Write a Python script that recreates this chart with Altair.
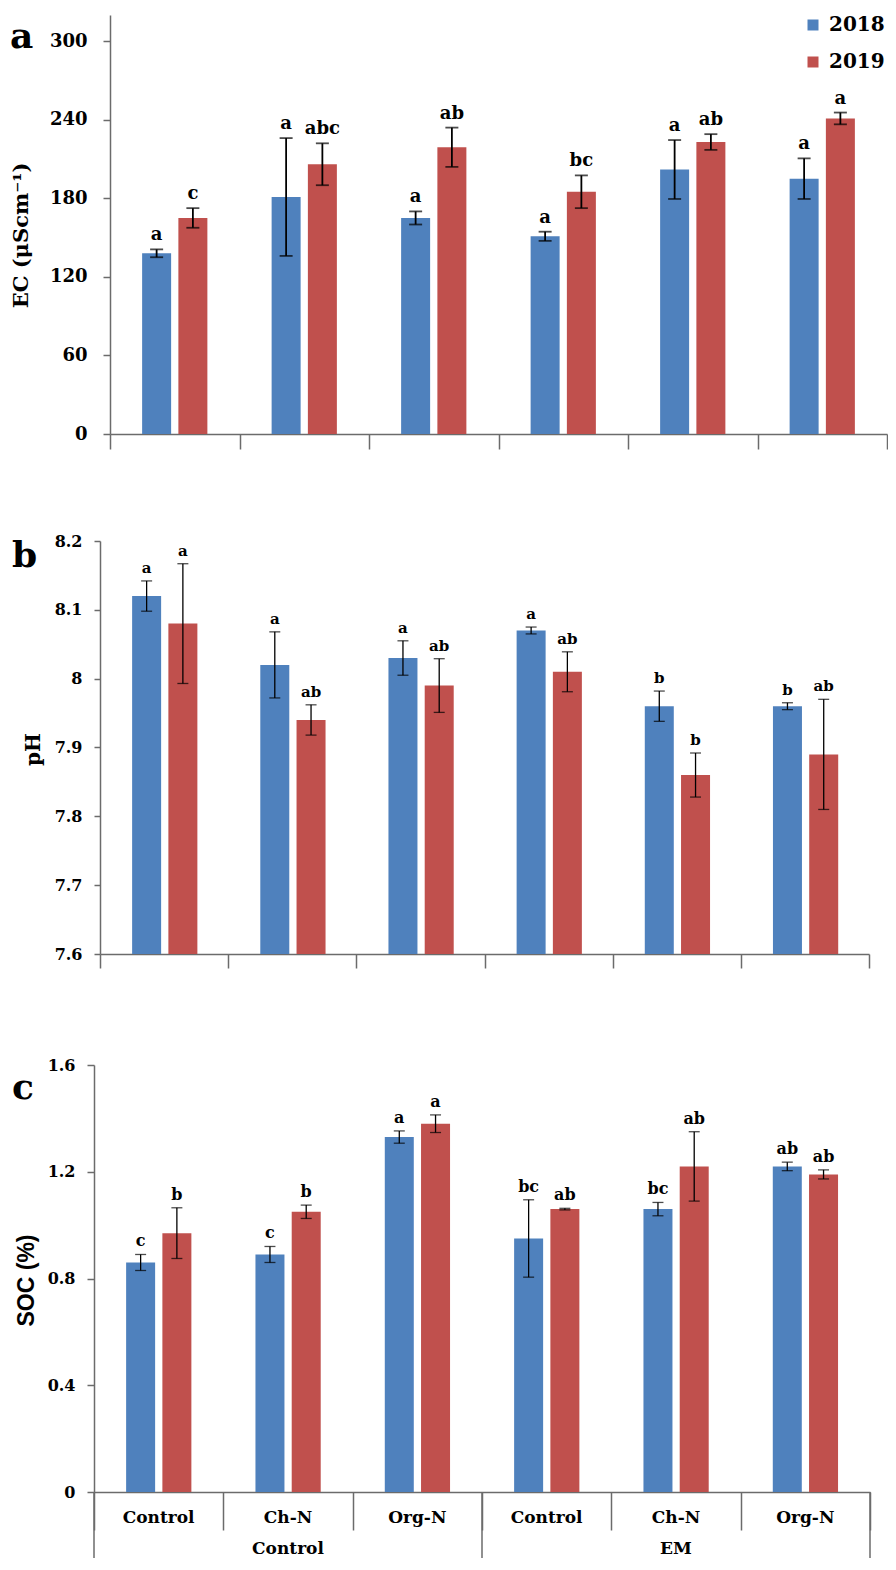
import altair as alt
import pandas as pd

# ---------------- data ----------------
categories = ["Control", "Ch-N", "Org-N", "Control", "Ch-N", "Org-N"]
main_groups = ["Control", "EM"]
years = ["2018", "2019"]

ec_2018 = [138, 181, 165, 151, 202, 195]
ec_2018_se = [3, 45, 5, 3.5, 22.5, 15.5]
ec_2018_let = ["a", "a", "a", "a", "a", "a"]
ec_2019 = [165, 206, 219, 185, 223, 241]
ec_2019_se = [7.5, 16, 15, 12.5, 6, 4.5]
ec_2019_let = ["c", "abc", "ab", "bc", "ab", "a"]

ph_2018 = [8.12, 8.02, 8.03, 8.07, 7.96, 7.96]
ph_2018_se = [0.022, 0.048, 0.025, 0.005, 0.022, 0.005]
ph_2018_let = ["a", "a", "a", "a", "b", "b"]
ph_2019 = [8.08, 7.94, 7.99, 8.01, 7.86, 7.89]
ph_2019_se = [0.087, 0.022, 0.039, 0.029, 0.032, 0.08]
ph_2019_let = ["a", "ab", "ab", "ab", "b", "ab"]

soc_2018 = [0.86, 0.89, 1.33, 0.95, 1.06, 1.22]
soc_2018_se = [0.03, 0.03, 0.023, 0.145, 0.025, 0.016]
soc_2018_let = ["c", "c", "a", "bc", "bc", "ab"]
soc_2019 = [0.97, 1.05, 1.38, 1.06, 1.22, 1.19]
soc_2019_se = [0.095, 0.025, 0.033, 0.003, 0.13, 0.017]
soc_2019_let = ["b", "b", "a", "ab", "ab", "ab"]

BLUE = "#4F81BD"
RED = "#C0504D"
AXIS_GREY = "#6b6b6b"
SERIF = "DejaVu Serif"

keys = [f"T{i + 1}" for i in range(len(categories))]


def make_df(v18, e18, l18, v19, e19, l19):
    rows = []
    for i, k in enumerate(keys):
        for yr, v, e, l in (("2018", v18[i], e18[i], l18[i]), ("2019", v19[i], e19[i], l19[i])):
            rows.append({"key": k, "year": yr, "val": v, "lo": v - e, "hi": v + e, "letter": l})
    return pd.DataFrame(rows)


def panel(df, x0, W, H, T, B, ydom, yticks, yfmt, ytitle, tfont, tsize, title_x, title_y,
          lab_size, lab_pad, ytick_size, letter, letter_x, letter_y, let_size, err_w, cap,
          xtick, legend=False, table=False):
    # x0: left edge of this panel's plot area, measured from the shared column origin
    xscale = alt.Scale(domain=keys, range=[x0, x0 + W], paddingInner=0, paddingOuter=0)
    xaxis = alt.Axis(labels=False, ticks=True, tickBand="extent", tickSize=xtick,
                     tickColor=AXIS_GREY, tickWidth=1.5, domainColor=AXIS_GREY,
                     domainWidth=1.5, title=None, grid=False)
    xenc = alt.X("key:N", scale=xscale, axis=xaxis)
    xoff = alt.XOffset("year:N", scale=alt.Scale(domain=years, paddingInner=0.2, paddingOuter=0.886))
    yscale = alt.Scale(domain=ydom, nice=False, zero=False)
    yaxis = alt.Axis(values=yticks, format=yfmt, title=ytitle, titleFont=tfont,
                     titleFontSize=tsize, titleFontWeight="bold", titleColor="black",
                     titleAngle=270, titleX=title_x, titleY=title_y, titleAlign="center",
                     titleBaseline="middle", labelFont=SERIF, labelFontSize=lab_size,
                     labelFontWeight="bold", labelColor="black", labelPadding=lab_pad,
                     tickSize=ytick_size, tickColor=AXIS_GREY, tickWidth=1.5,
                     domainColor=AXIS_GREY, domainWidth=1.5, grid=False, offset=-x0)

    def yenc(f):
        return alt.Y(f, scale=yscale, axis=yaxis)

    if legend:
        leg = alt.Legend(title=None, orient="none", legendX=x0 + 693, legendY=0,
                         direction="vertical", symbolType="square", symbolSize=121,
                         symbolStrokeWidth=0, symbolOpacity=1, labelFont=SERIF,
                         labelFontSize=20, labelFontWeight="bold", labelColor="black",
                         rowPadding=17, labelOffset=6, padding=0)
    else:
        leg = None
    color = alt.Color("year:N", scale=alt.Scale(domain=years, range=[BLUE, RED]), legend=leg)

    base = alt.Chart(df).encode(x=xenc, xOffset=xoff)
    bars = base.mark_bar().encode(y=yenc("val:Q"), y2=alt.datum(ydom[0]), color=color)
    err = base.mark_rule(color="black", strokeWidth=err_w).encode(y=yenc("lo:Q"), y2="hi:Q")
    cap_lo = base.mark_tick(color="black", thickness=err_w, size=cap).encode(y=yenc("lo:Q"))
    cap_hi = base.mark_tick(color="black", thickness=err_w, size=cap).encode(y=yenc("hi:Q"))
    lets = base.mark_text(baseline="bottom", dy=-5, font=SERIF, fontWeight="bold",
                          fontSize=let_size, color="black").encode(y=yenc("hi:Q"), text="letter:N")

    one = pd.DataFrame({"t": [letter]})
    plabel = alt.Chart(one).mark_text(align="left", baseline="alphabetic", font=SERIF,
                                      fontWeight="bold", fontSize=36, color="black").encode(
        x=alt.value(letter_x), y=alt.value(letter_y), text="t:N")
    anchor = alt.Chart(one).mark_rule(strokeOpacity=0).encode(
        x=alt.value(-86), y=alt.value(-T), y2=alt.value(H + B))

    layers = [bars, err, cap_lo, cap_hi, lets, plabel, anchor]

    if table:
        cat_df = pd.DataFrame({"key": keys, "label": categories})
        grp_df = pd.DataFrame({"key": [keys[1], keys[4]], "label": main_groups})
        cat_txt = alt.Chart(cat_df).mark_text(font=SERIF, fontWeight="bold", fontSize=17,
                                              color="black", baseline="middle").encode(
            x=xenc, y=alt.value(H + 26), text="label:N")
        grp_txt = alt.Chart(grp_df).mark_text(font=SERIF, fontWeight="bold", fontSize=17,
                                              color="black", baseline="middle").encode(
            x=xenc, y=alt.value(H + B - 9), text="label:N")
        long_a = alt.Chart(pd.DataFrame({"key": [keys[0], keys[3]]})).mark_rule(
            color=AXIS_GREY, strokeWidth=1.5).encode(
            x=alt.X("key:N", bandPosition=0, scale=xscale, axis=xaxis),
            y=alt.value(H), y2=alt.value(H + B))
        long_b = alt.Chart(pd.DataFrame({"key": [keys[5]]})).mark_rule(
            color=AXIS_GREY, strokeWidth=1.5).encode(
            x=alt.X("key:N", bandPosition=1, scale=xscale, axis=xaxis),
            y=alt.value(H), y2=alt.value(H + B))
        layers += [cat_txt, grp_txt, long_a, long_b]

    return alt.layer(*layers).properties(width=x0 + W, height=H)


df_a = make_df(ec_2018, ec_2018_se, ec_2018_let, ec_2019, ec_2019_se, ec_2019_let)
df_b = make_df(ph_2018, ph_2018_se, ph_2018_let, ph_2019, ph_2019_se, ph_2019_let)
df_c = make_df(soc_2018, soc_2018_se, soc_2018_let, soc_2019, soc_2019_se, soc_2019_let)

# shared column origin sits at page x = 94 (panel c's y axis)
pa = panel(df_a, x0=16, W=777, H=419, T=7, B=20, ydom=[0, 320],
           yticks=[0, 60, 120, 180, 240, 300], yfmt="d", ytitle="EC (μScm⁻¹)", tfont=SERIF,
           tsize=21, title_x=-89, title_y=220, lab_size=18, lab_pad=16, ytick_size=7,
           letter="a", letter_x=-84, letter_y=33, let_size=18, err_w=1.8, cap=13,
           xtick=15, legend=True)
pb = panel(df_b, x0=6, W=769, H=413, T=87, B=20, ydom=[7.6, 8.2],
           yticks=[7.6, 7.7, 7.8, 7.9, 8.0, 8.1, 8.2], yfmt="~g", ytitle="pH", tfont=SERIF,
           tsize=20, title_x=-67, title_y=208, lab_size=16, lab_pad=12, ytick_size=6,
           letter="b", letter_x=-82, letter_y=26, let_size=15, err_w=1.3, cap=11,
           xtick=14)
pc = panel(df_c, x0=0, W=776, H=427, T=91, B=66, ydom=[0, 1.6],
           yticks=[0, 0.4, 0.8, 1.2, 1.6], yfmt="~g", ytitle="SOC (%)", tfont="Liberation Sans",
           tsize=23, title_x=-68, title_y=215, lab_size=16, lab_pad=12, ytick_size=7,
           letter="c", letter_x=-82, letter_y=34, let_size=16, err_w=1.3, cap=11,
           xtick=38, table=True)

chart = alt.vconcat(pa, pb, pc, spacing=0).resolve_scale(
    color="independent"
).properties(
    padding={"left": 0, "top": 0, "right": 0, "bottom": 0}
).configure_view(stroke=None)

chart.save("out.html", embed_options={"renderer": "svg", "actions": False})
